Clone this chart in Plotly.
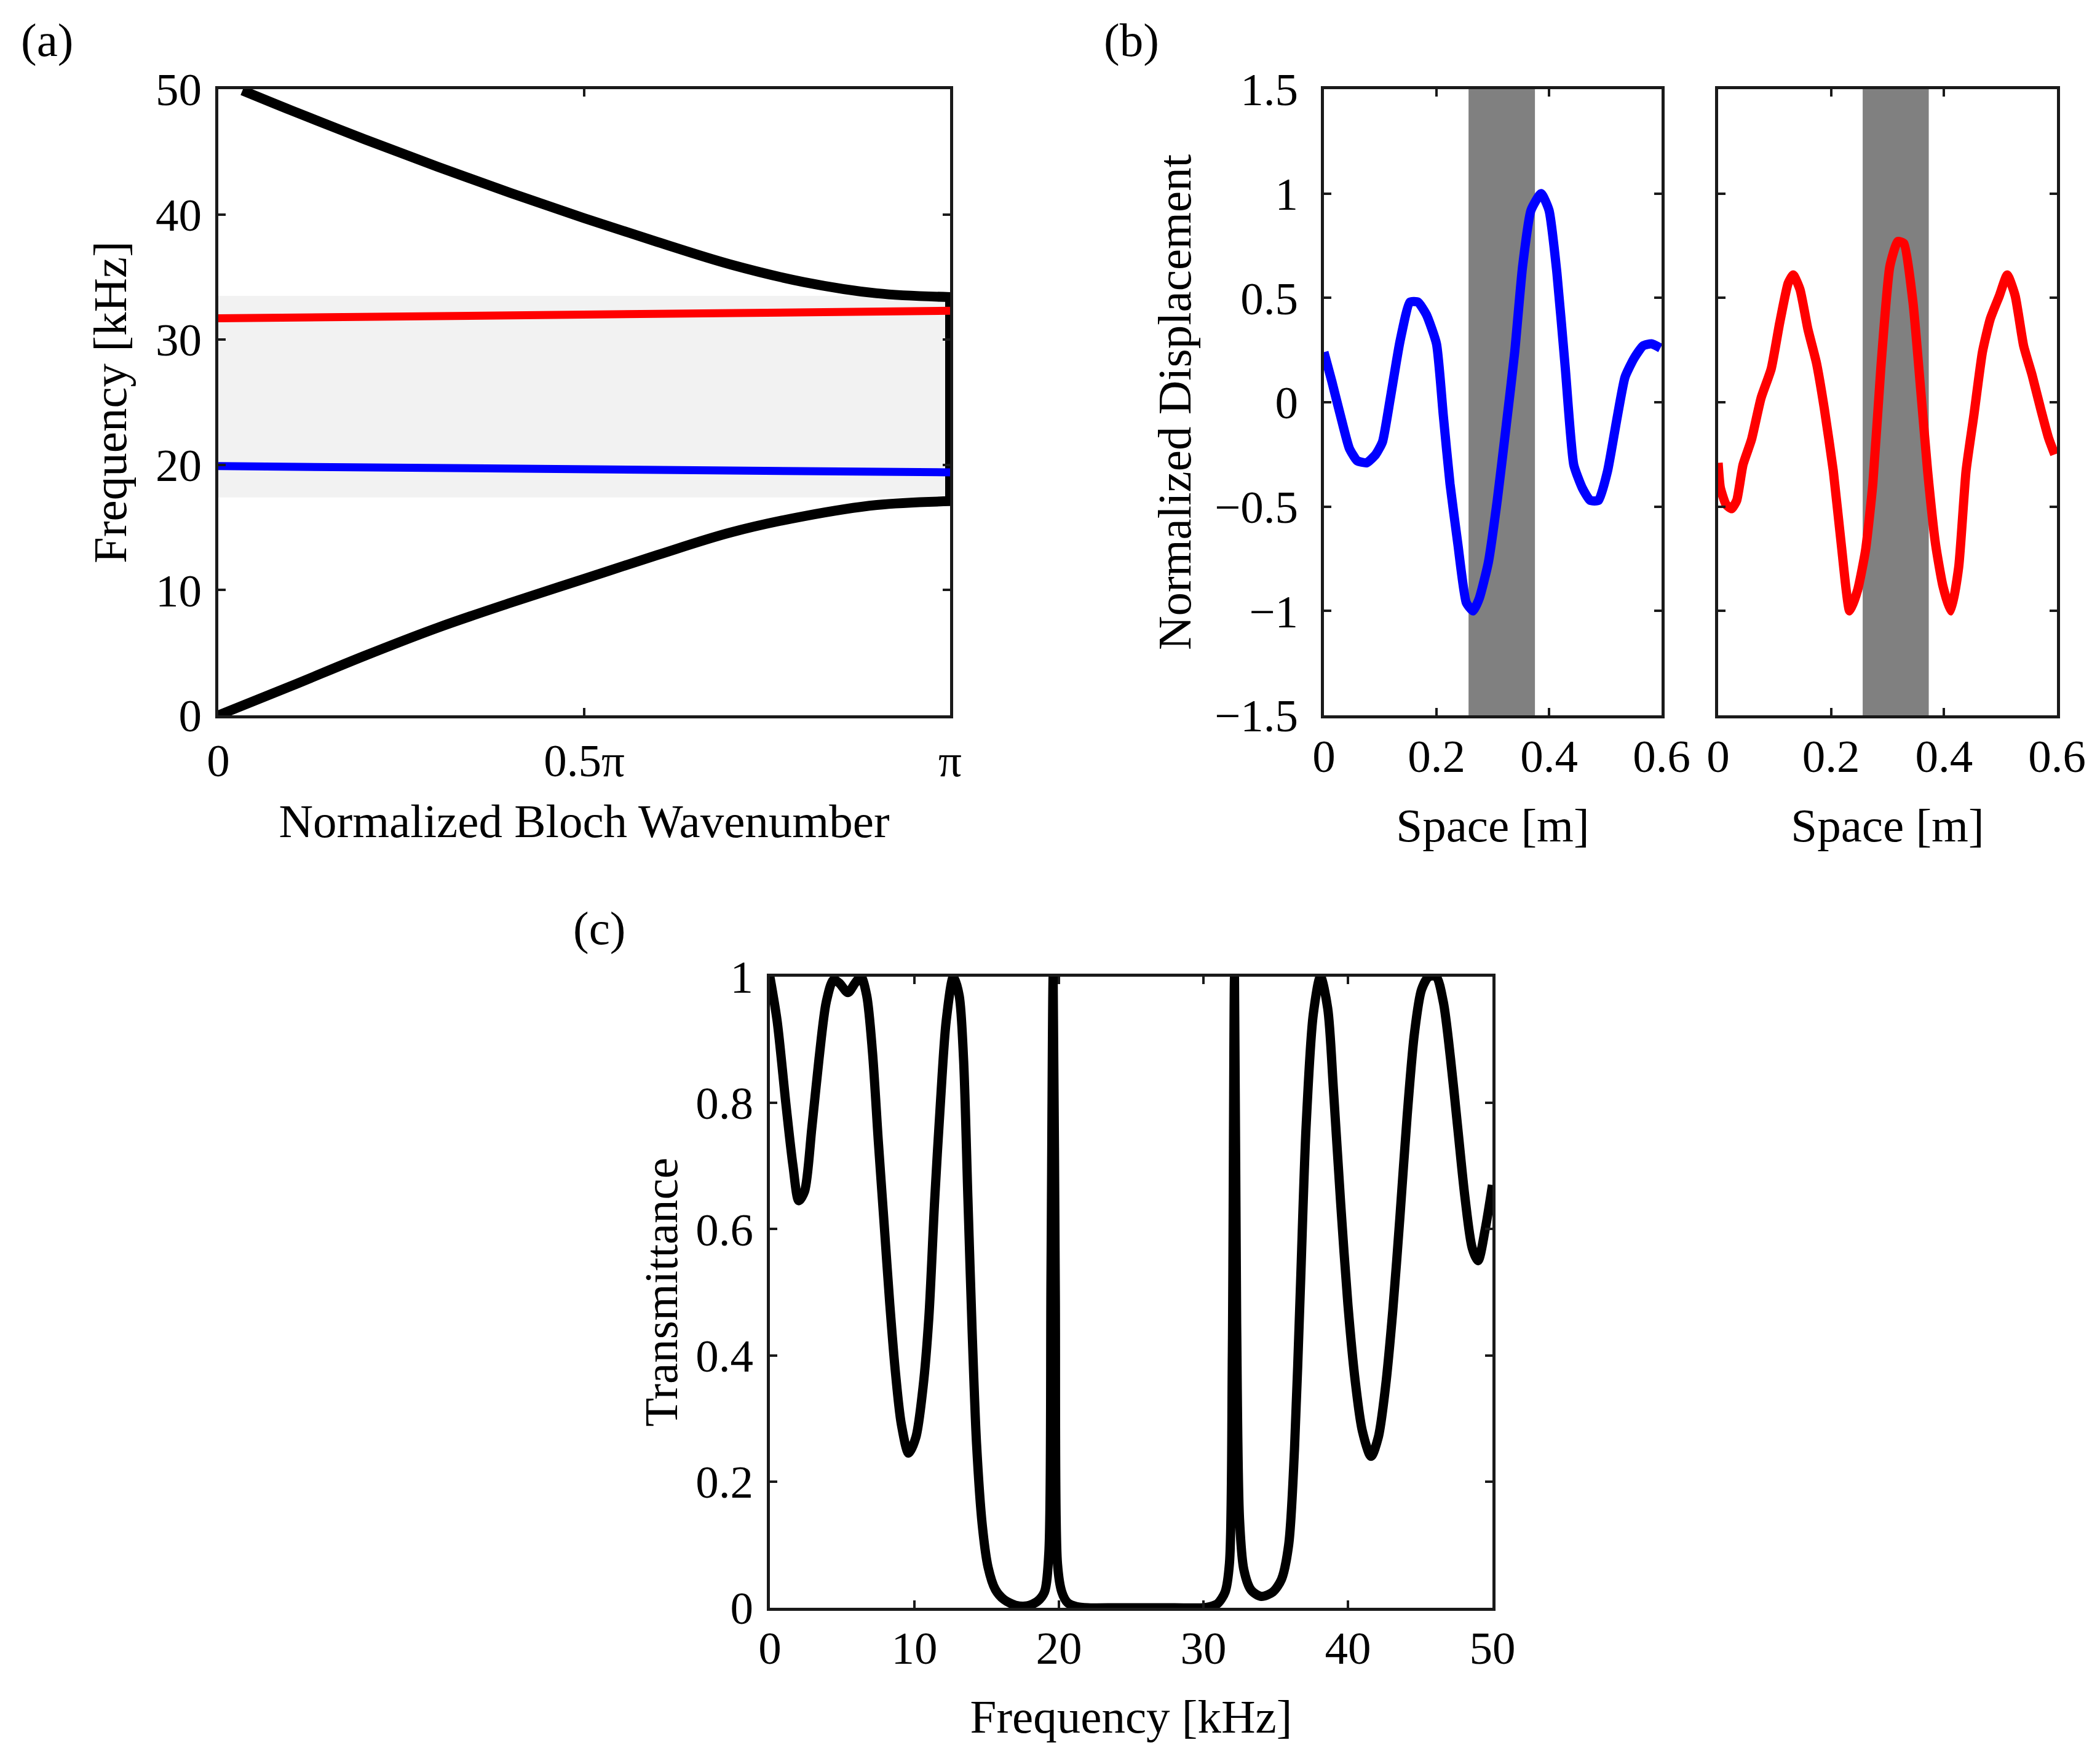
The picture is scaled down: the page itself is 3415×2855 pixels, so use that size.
import plotly.graph_objects as go

# (a) dispersion curves, wavenumber in units of pi
k_upper = [0.033, 0.1, 0.2, 0.3, 0.4, 0.5, 0.6, 0.7, 0.8, 0.9, 1.0]
f_upper = [49.9, 48.3, 46.0, 43.8, 41.7, 39.7, 37.8, 36.0, 34.6, 33.7, 33.4]
k_lower = [0.0, 0.1, 0.2, 0.3, 0.4, 0.5, 0.6, 0.7, 0.8, 0.9, 1.0]
f_lower = [0.0, 2.35, 4.75, 7.0, 9.0, 10.9, 12.8, 14.6, 15.9, 16.8, 17.1]
k_flat = [0.0, 1.0]
f_red = [31.7, 32.3]
f_blue = [19.9, 19.4]
gap_band = [17.4, 33.5]
k_ticks = [0, 0.5, 1]
k_ticktext = ["0", "0.5π", "π"]

# (b) mode shapes
x_blue = [0.0, 0.014, 0.029, 0.045, 0.059, 0.076, 0.092, 0.104, 0.118, 0.135, 0.153, 0.167,
          0.182, 0.2, 0.212, 0.224, 0.238, 0.253, 0.265, 0.276, 0.292, 0.308, 0.324, 0.339,
          0.353, 0.368, 0.386, 0.4, 0.414, 0.429, 0.444, 0.459, 0.473, 0.488, 0.504, 0.52,
          0.535, 0.551, 0.567, 0.582, 0.598]
u_blue = [0.24, 0.10, -0.06, -0.22, -0.28, -0.29, -0.25, -0.19, 0.02, 0.29, 0.48, 0.48,
          0.42, 0.28, -0.06, -0.39, -0.68, -0.96, -1.0, -0.94, -0.77, -0.47, -0.11, 0.24,
          0.65, 0.92, 1.0, 0.92, 0.62, 0.16, -0.30, -0.41, -0.47, -0.47, -0.33, -0.09,
          0.12, 0.21, 0.27, 0.28, 0.26]
x_red = [0.0, 0.004, 0.014, 0.024, 0.033, 0.044, 0.059, 0.076, 0.094, 0.109, 0.124, 0.133,
         0.145, 0.159, 0.174, 0.188, 0.204, 0.218, 0.233, 0.247, 0.261, 0.274, 0.288, 0.304,
         0.318, 0.329, 0.345, 0.359, 0.371, 0.385, 0.398, 0.412, 0.426, 0.439, 0.453, 0.468,
         0.482, 0.498, 0.512, 0.526, 0.541, 0.556, 0.571, 0.585, 0.596]
u_red = [-0.29, -0.41, -0.49, -0.51, -0.47, -0.30, -0.18, 0.02, 0.16, 0.38, 0.57, 0.61,
         0.54, 0.35, 0.19, -0.03, -0.33, -0.68, -1.0, -0.90, -0.71, -0.39, 0.16, 0.65,
         0.77, 0.76, 0.48, 0.05, -0.33, -0.68, -0.88, -1.0, -0.79, -0.33, -0.06, 0.24,
         0.40, 0.51, 0.61, 0.51, 0.27, 0.13, -0.03, -0.17, -0.25]
slab_left = [0.257, 0.375]
slab_right = [0.256, 0.373]
space_ticks = [0, 0.2, 0.4, 0.6]
space_ticktext = ["0", "0.2", "0.4", "0.6"]
disp_ticks = [-1.5, -1, -0.5, 0, 0.5, 1, 1.5]
disp_ticktext = ["\u22121.5", "\u22121", "\u22120.5", "0", "0.5", "1", "1.5"]

# (c) transmittance
freq = [0, 0.5, 1.1, 1.6, 2.0, 2.4, 2.9, 3.4, 3.9, 4.4, 4.8, 5.4, 5.9, 6.3, 6.7, 7.1, 7.5,
        7.9, 8.3, 8.7, 9.1, 9.6, 10.1, 10.6, 11.0, 11.4, 11.8, 12.2, 12.7, 13.1, 13.4, 13.7,
        14.0, 14.3, 14.7, 15.1, 15.6, 16.2, 17.0, 17.8, 18.5, 19.0, 19.3, 19.45, 19.6, 19.75,
        19.9, 20.2, 20.6, 21.2, 22, 24, 26, 28, 30, 30.5, 31.0, 31.5, 31.8, 32.0, 32.15, 32.3,
        32.5, 32.8, 33.3, 34.0, 34.8, 35.4, 35.9, 36.3, 36.7, 37.1, 37.6, 38.1, 38.6, 39.0,
        39.5, 40.0, 40.5, 41.0, 41.6, 42.1, 42.6, 43.1, 43.6, 44.1, 44.6, 45.1, 45.6, 46.1,
        46.6, 47.1, 47.6, 48.1, 48.6, 49.0, 49.5, 50.0]
trans = [1.0, 0.93, 0.80, 0.70, 0.645, 0.66, 0.76, 0.87, 0.96, 0.995, 0.99, 0.975, 0.99, 1.0,
         0.97, 0.88, 0.74, 0.61, 0.48, 0.37, 0.29, 0.245, 0.27, 0.35, 0.46, 0.645, 0.80, 0.93,
         1.0, 0.97, 0.87, 0.65, 0.435, 0.26, 0.13, 0.064, 0.029, 0.013, 0.004, 0.003, 0.01,
         0.025, 0.086, 0.52, 1.0, 0.5, 0.07, 0.025, 0.008, 0.002, 0.0, 0.0, 0.0, 0.0, 0.0,
         0.002, 0.007, 0.025, 0.07, 0.4, 1.0, 0.45, 0.14, 0.06, 0.028, 0.018, 0.025, 0.045,
         0.1, 0.25, 0.5, 0.76, 0.94, 1.0, 0.95, 0.82, 0.64, 0.48, 0.36, 0.28, 0.24, 0.27, 0.35,
         0.47, 0.62, 0.78, 0.91, 0.98, 1.0, 1.0, 0.96, 0.87, 0.76, 0.65, 0.57, 0.55, 0.6, 0.67]
freq_ticks = [0, 10, 20, 30, 40, 50]
trans_ticks = [0, 0.2, 0.4, 0.6, 0.8, 1]
trans_ticktext = ["0", "0.2", "0.4", "0.6", "0.8", "1"]

FONT = "Liberation Serif, Times New Roman, serif"
TICK = 75
TITLE = 77
LINE = "#1a1a1a"
W, H = 3415, 2855
PAD = 8  # page body margin


def xd(a, b):
    return [(a - PAD) / W, (b - PAD) / W]


def yd(top, bottom):
    return [1 - (bottom - PAD) / H, 1 - (top - PAD) / H]


fig = go.Figure()

# (a)
fig.add_trace(go.Scatter(x=k_upper, y=f_upper, mode="lines",
                         line=dict(color="black", width=16, shape="spline", smoothing=1.0),
                         xaxis="x", yaxis="y"))
fig.add_trace(go.Scatter(x=k_lower, y=f_lower, mode="lines",
                         line=dict(color="black", width=16, shape="spline", smoothing=1.0),
                         xaxis="x", yaxis="y"))
fig.add_trace(go.Scatter(x=[k_flat[1], k_flat[1]], y=[f_lower[-1], f_upper[-1]], mode="lines",
                         line=dict(color="black", width=16), xaxis="x", yaxis="y"))
fig.add_trace(go.Scatter(x=k_flat, y=f_red, mode="lines", line=dict(color="#ff0000", width=13),
                         xaxis="x", yaxis="y"))
fig.add_trace(go.Scatter(x=k_flat, y=f_blue, mode="lines", line=dict(color="#0000ff", width=13),
                         xaxis="x", yaxis="y"))

# (b)
fig.add_trace(go.Scatter(x=x_blue, y=u_blue, mode="lines",
                         line=dict(color="#0000ff", width=15, shape="spline", smoothing=0.5),
                         xaxis="x2", yaxis="y2"))
fig.add_trace(go.Scatter(x=x_red, y=u_red, mode="lines",
                         line=dict(color="#ff0000", width=15, shape="spline", smoothing=0.5),
                         xaxis="x3", yaxis="y3"))

# (c)
fig.add_trace(go.Scatter(x=freq, y=trans, mode="lines",
                         line=dict(color="black", width=15, shape="spline", smoothing=0.8),
                         xaxis="x4", yaxis="y4"))

fig.add_shape(type="rect", xref="x", yref="y", x0=k_flat[0], x1=k_flat[1],
              y0=gap_band[0], y1=gap_band[1], fillcolor="#f2f2f2", line_width=0, layer="below")
fig.add_shape(type="rect", xref="x2", yref="y2", x0=slab_left[0], x1=slab_left[1],
              y0=disp_ticks[0], y1=disp_ticks[-1], fillcolor="#808080", line_width=0, layer="below")
fig.add_shape(type="rect", xref="x3", yref="y3", x0=slab_right[0], x1=slab_right[1],
              y0=disp_ticks[0], y1=disp_ticks[-1], fillcolor="#808080", line_width=0, layer="below")

common = dict(showline=True, linecolor=LINE, linewidth=5, mirror="ticks", ticks="inside",
              ticklen=12, tickwidth=4, tickcolor=LINE, showgrid=False, zeroline=False,
              automargin=False,
              tickfont=dict(family=FONT, size=TICK, color="black"),
              title_font=dict(family=FONT, size=TITLE, color="black"))

top_row = yd(145, 1163)

fig.update_layout(
    width=W, height=H, margin=dict(l=0, r=0, t=0, b=0, autoexpand=False),
    paper_bgcolor="white", plot_bgcolor="white", showlegend=False,
    font=dict(family=FONT, color="black"),
    xaxis=dict(domain=xd(355, 1545), range=[0, 1], tickvals=k_ticks, ticktext=k_ticktext,
               title=dict(text="Normalized Bloch Wavenumber", standoff=32),
               ticklabelstandoff=4, anchor="y", **common),
    yaxis=dict(domain=top_row, range=[0, 50], dtick=10,
               title=dict(text="Frequency [kHz]", standoff=24),
               ticklabelstandoff=7, anchor="x", **common),
    xaxis2=dict(domain=xd(2153, 2702), range=[0, 0.6], tickvals=space_ticks,
                ticktext=space_ticktext, title=dict(text="Space [m]", standoff=46),
                ticklabelstandoff=-3, anchor="y2", **common),
    yaxis2=dict(domain=top_row, range=[-1.5, 1.5], tickvals=disp_ticks,
                ticktext=disp_ticktext, title=dict(text="Normalized Displacement", standoff=14),
                ticklabelstandoff=22, anchor="x2", **common),
    xaxis3=dict(domain=xd(2794, 3345), range=[0, 0.6], tickvals=space_ticks,
                ticktext=space_ticktext, title=dict(text="Space [m]", standoff=46),
                ticklabelstandoff=-3, anchor="y3", **common),
    yaxis3=dict(domain=top_row, range=[-1.5, 1.5], tickvals=disp_ticks,
                showticklabels=False, anchor="x3", **common),
    xaxis4=dict(domain=xd(1252, 2427), range=[0, 50], tickvals=freq_ticks,
                title=dict(text="Frequency [kHz]", standoff=45),
                ticklabelstandoff=-4, anchor="y4", **common),
    yaxis4=dict(domain=yd(1588, 2614), range=[0, 1], tickvals=trans_ticks,
                ticktext=trans_ticktext, title=dict(text="Transmittance", standoff=6),
                ticklabelstandoff=7, anchor="x4", **common),
)

for label, px_x, px_y in [("(a)", 76, 65), ("(b)", 1840, 65), ("(c)", 974, 1509)]:
    fig.add_annotation(text=label, xref="paper", yref="paper",
                       x=(px_x - PAD) / W, y=1 - (px_y - PAD) / H,
                       xanchor="center", yanchor="middle", showarrow=False,
                       font=dict(family=FONT, size=TITLE, color="black"))

fig.write_html("out.html")
